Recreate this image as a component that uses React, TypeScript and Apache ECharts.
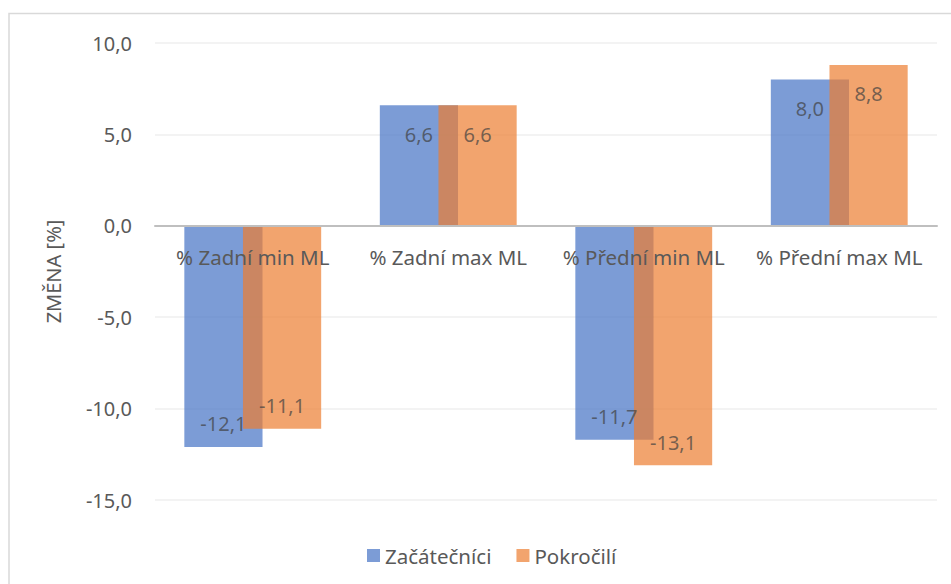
import React, { useEffect, useRef } from "react";
import * as echarts from "echarts";

const categories = ["% Zadní min ML", "% Zadní max ML", "% Přední min ML", "% Přední max ML"];
const seriesNames = ["Začátečníci", "Pokročilí"];
const beginners = [-12.1, 6.6, -11.7, 8.0];
const advanced = [-11.1, 6.6, -13.1, 8.8];
const yTicks = { min: -15, max: 10, interval: 5 };
const yAxisTitle = "ZMĚNA [%]";

const FONT = "Noto Sans";
const fmt = (v: number) => v.toFixed(1).replace(".", ",");

const GRID_TOP = 43;
const GRID_BOTTOM = 84;
const HEIGHT = 584;

function toData(values: number[]) {
  return values.map((v) => ({
    value: v,
    label: {
      position: v >= 0 ? "insideTop" : "insideBottom",
      distance: v >= 0 ? 19 : 13,
    },
  }));
}

export default function App() {
  const ref = useRef<HTMLDivElement>(null);
  useEffect(() => {
    if (!ref.current) return;
    const chart = echarts.init(ref.current, null, { renderer: "svg" });
    const plotH = HEIGHT - GRID_TOP - GRID_BOTTOM;
    const zeroFromBottom = ((0 - yTicks.min) / (yTicks.max - yTicks.min)) * plotH;
    const labelCommon = {
      show: true,
      fontFamily: FONT,
      fontSize: 20,
      color: "#404040",
      formatter: (p: any) => fmt(p.value),
    };
    chart.setOption({
      animation: false,
      backgroundColor: "#ffffff",
      textStyle: { fontFamily: FONT },
      graphic: [
        {
          type: "rect",
          shape: { x: 9, y: 13.5, width: 1000, height: 1000 },
          style: { fill: "none", stroke: "#d9d9d9", lineWidth: 1.5 },
          silent: true,
          z: -10,
        },
      ],
      grid: { left: 155, right: 14, top: GRID_TOP, bottom: GRID_BOTTOM },
      legend: {
        data: seriesNames,
        left: 362,
        top: 540,
        itemWidth: 13,
        itemHeight: 13,
        itemGap: 25,
        icon: "rect",
        textStyle: { fontFamily: FONT, fontSize: 20.5, color: "#595959" },
      },
      xAxis: {
        type: "category",
        data: categories,
        position: "bottom",
        offset: -zeroFromBottom,
        axisLine: { show: true, onZero: false, lineStyle: { color: "#bfbfbf", width: 2 } },
        axisTick: { show: false },
        axisLabel: { interval: 0, fontFamily: FONT, fontSize: 20.5, color: "#595959", margin: 21 },
        splitLine: { show: false },
        z: 10,
      },
      yAxis: {
        type: "value",
        min: yTicks.min,
        max: yTicks.max,
        interval: yTicks.interval,
        name: yAxisTitle,
        nameLocation: "middle",
        nameGap: 92,
        nameTextStyle: { fontFamily: FONT, fontSize: 20, color: "#595959" },
        axisLine: { show: false },
        axisTick: { show: false },
        axisLabel: {
          fontFamily: FONT,
          fontSize: 20,
          color: "#595959",
          margin: 23,
          formatter: (v: number) => fmt(v),
        },
        splitLine: { show: true, lineStyle: { color: "#efefef", width: 1.5 } },
      },
      series: [
        {
          name: seriesNames[0],
          type: "bar",
          data: toData(beginners),
          barWidth: "40%",
          barGap: "-25%",
          itemStyle: { color: "#4472c4", opacity: 0.7 },
          label: labelCommon,
          z: 2,
        },
        {
          name: seriesNames[1],
          type: "bar",
          data: toData(advanced),
          barWidth: "40%",
          barGap: "-25%",
          itemStyle: { color: "#ed7d31", opacity: 0.7 },
          label: labelCommon,
          z: 2,
        },
      ],
    });
    return () => chart.dispose();
  }, []);
  return <div ref={ref} style={{ width: 951, height: 584, position: "absolute", left: 0, top: 0 }} />;
}
